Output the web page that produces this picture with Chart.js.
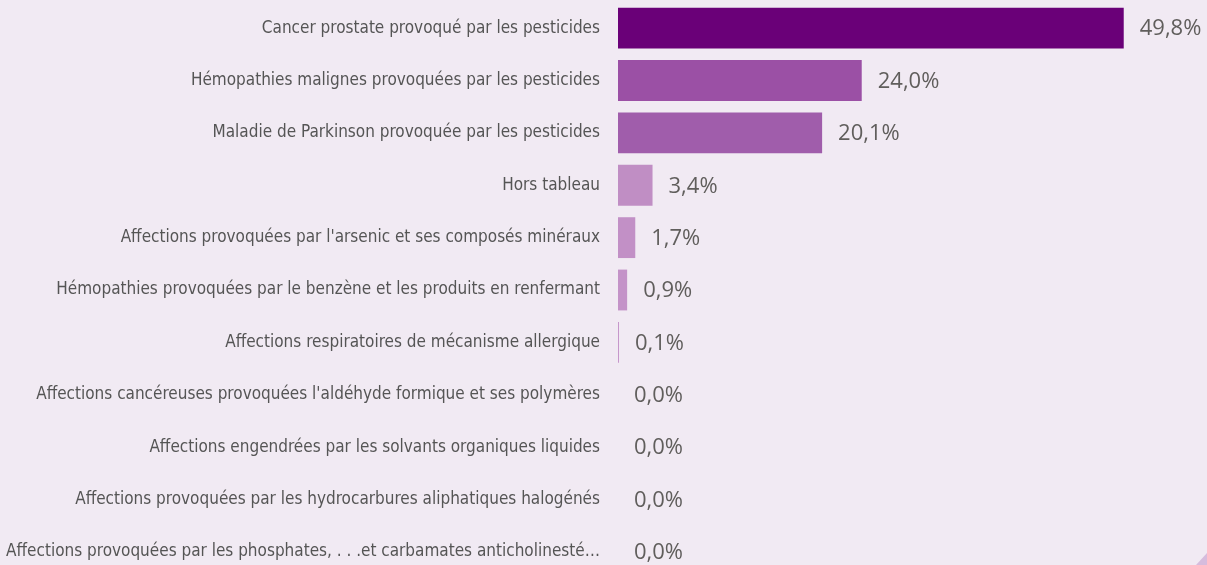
<!DOCTYPE html>
<html>
<head>
<meta charset="utf-8">
<script src="https://cdn.jsdelivr.net/npm/chart.js@4.4.1/dist/chart.umd.min.js"></script>
<style>
  html, body { margin: 0; padding: 0; background: #f1eaf3; overflow: hidden; }
  #wrap { position: relative; width: 1207px; height: 565px; overflow: hidden; }
  #bars { position: absolute; left: 0; top: 0; }
  /* little folded corner bottom right */
  #corner { position: absolute; right: 0; bottom: 0; width: 0; height: 0;
            border-left: 11px solid transparent; border-bottom: 12px solid #d6bcdd; }
</style>
</head>
<body>
<div id="wrap">
  <canvas id="bars" width="1207" height="580"></canvas>
  <div id="corner"></div>
</div>
<script>
var maladies = [
  "Cancer prostate provoqué par les pesticides",
  "Hémopathies malignes provoquées par les pesticides",
  "Maladie de Parkinson provoquée par les pesticides",
  "Hors tableau",
  "Affections provoquées par l'arsenic et ses composés minéraux",
  "Hémopathies provoquées par le benzène et les produits en renfermant",
  "Affections respiratoires de mécanisme allergique",
  "Affections cancéreuses provoquées l'aldéhyde formique et ses polymères",
  "Affections engendrées par les solvants organiques liquides",
  "Affections provoquées par les hydrocarbures aliphatiques halogénés",
  "Affections provoquées par les phosphates, . . .et carbamates anticholinesté…"
]
var parts = [49.8, 24.0, 20.1, 3.4, 1.7, 0.9, 0.1, 0.0, 0.0, 0.0, 0.0]

var couleurs = ["#6a0078", "#9b50a5", "#a05dab", "#c08ec4", "#c290c6", "#c493c8", "#c697cb",
                "#c99ccd", "#c99ccd", "#c99ccd", "#c99ccd"]

function pourcent(v) {
  return v.toFixed(1).replace(".", ",") + "%"
}

// writes the value just after the end of each bar
var etiquettes = {
  id: "etiquettes",
  afterDatasetsDraw: function(chart) {
    var ctx = chart.ctx
    var meta = chart.getDatasetMeta(0)
    ctx.save()
    ctx.font = "22px 'Open Sans'"
    ctx.fillStyle = "#605e5c"
    ctx.textAlign = "left"
    ctx.textBaseline = "middle"
    meta.data.forEach(function(bar, i) {
      ctx.fillText(pourcent(parts[i]), bar.x + 16, bar.y + 1)
    })
    ctx.restore()
  }
}

new Chart("bars", {
  type: "bar",
  data: {
    labels: maladies,
    datasets: [{
      data: parts,
      backgroundColor: couleurs,
      categoryPercentage: 0.78,
      barPercentage: 1
    }]
  },
  options: {
    indexAxis: "y",
    responsive: false,
    animation: false,
    layout: { padding: { top: 2, bottom: 2, left: 0, right: 0 } },
    plugins: {
      legend: { display: false },
      tooltip: { enabled: false }
    },
    scales: {
      x: { display: false, min: 0, max: 58 },
      y: {
        grid: { display: false, drawTicks: false },
        border: { display: false },
        ticks: {
          padding: 18,
          color: "#555555",
          font: { family: "'DejaVu Sans Condensed', 'Liberation Sans Narrow', Roboto, sans-serif", size: 17 }
        },
        afterFit: function(scale) {
          scale.width = 618
          // no extra room above/below the first and last rows
          scale.paddingTop = 0
          scale.paddingBottom = 0
        }
      }
    }
  },
  plugins: [etiquettes]
})
</script>
</body>
</html>
